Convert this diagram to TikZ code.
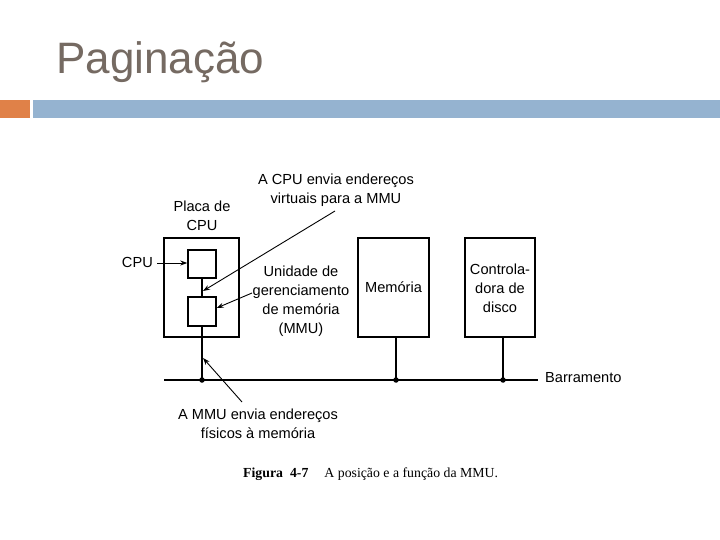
\documentclass[tikz,border=0pt]{standalone}
\usepackage{fontspec}
\setmainfont{Liberation Sans}
\newfontfamily\capfont{Liberation Serif}
\usetikzlibrary{arrows.meta}
\definecolor{titlecol}{RGB}{117,106,98}
\definecolor{orangebar}{RGB}{224,129,72}
\definecolor{bluebar}{RGB}{149,179,208}
\begin{document}
\begin{tikzpicture}[x=1pt,y=-1pt,
  box/.style={draw=black,line width=1.4pt},
  wire/.style={draw=black,line width=1.5pt},
  lbl/.style={font=\fontsize{14.6}{19}\selectfont,align=center,inner sep=0pt},
  ptr/.style={draw=black,line width=0.9pt,-{Stealth[length=7pt,width=5pt]}},
  dot/.style={circle,fill=black,inner sep=0pt,minimum size=5.5pt}]
\useasboundingbox (0,0) rectangle (720,540);
% title and bars
\node[anchor=base west,inner sep=0pt,text=titlecol,font=\fontsize{44}{44}\selectfont] (title) at (56,74) {Paginação};
\fill[orangebar] (0,100) rectangle (30,118);
\fill[bluebar] (33,100) rectangle (720,118);
% boxes
\draw[box] (164,238) rectangle (239,337);
\node[box,minimum width=28pt,minimum height=28pt,inner sep=0pt] (cpu) at (202,264) {};
\node[box,minimum width=28pt,minimum height=29pt,inner sep=0pt] (mmu) at (202,311.5) {};
\node[box,minimum width=71pt,minimum height=99pt,inner sep=0pt] (mem) at (393.5,287.5) {};
\node[lbl] at (mem) {Memória};
\node[box,minimum width=70pt,minimum height=99pt,inner sep=0pt] (ctl) at (500,287.5) {};
\node[lbl] at (500,288) {Controla-\\dora de\\disco};
% bus
\coordinate (busL) at (164,380);
\coordinate (busR) at (538,380);
\node[dot] (d1) at (202,380) {};
\node[dot] (d2) at (396,380) {};
\node[dot] (d3) at (503,380) {};
\draw[wire] (busL) -- (busR);
\node[lbl,anchor=west] (bar) at (545,378) {Barramento};
\draw[wire] (cpu.south) -- (mmu.north);
\draw[wire] (mmu.south) -- (d1.center);
\draw[wire] (mem.south -| d2) -- (d2.center);
\draw[wire] (ctl.south -| d3) -- (d3.center);
% labels
\node[lbl,anchor=east] (cpulbl) at (153,262) {CPU};
\draw[ptr] (157,263) -- (cpu.west |- 0,263);
\node[lbl] (placa) at (202,216) {Placa de\\CPU};
\node[lbl] (envia) at (336,190.5) {A CPU envia endereços\\virtuais para a MMU};
\coordinate (t1) at (203,291);
\draw[ptr] (335,211) -- (t1);
\node[lbl] (unid) at (301,301.5) {Unidade de\\gerenciamento\\de memória\\(MMU)};
\draw[ptr] (252,293) -- (mmu.east |- 0,308);
\node[lbl] (fis) at (258,423.5) {A MMU envia endereços\\físicos à memória};
\coordinate (t2) at (203,358);
\draw[ptr] (242,402) -- (t2);
% caption
\node[anchor=base west,inner sep=0pt,font=\capfont\fontsize{13.8}{13.8}\selectfont] (cap) at (243,477) {\textbf{Figura\hspace{7pt}4-7}\hspace{16pt}A posição e a função da MMU.};
\end{tikzpicture}
\end{document}
